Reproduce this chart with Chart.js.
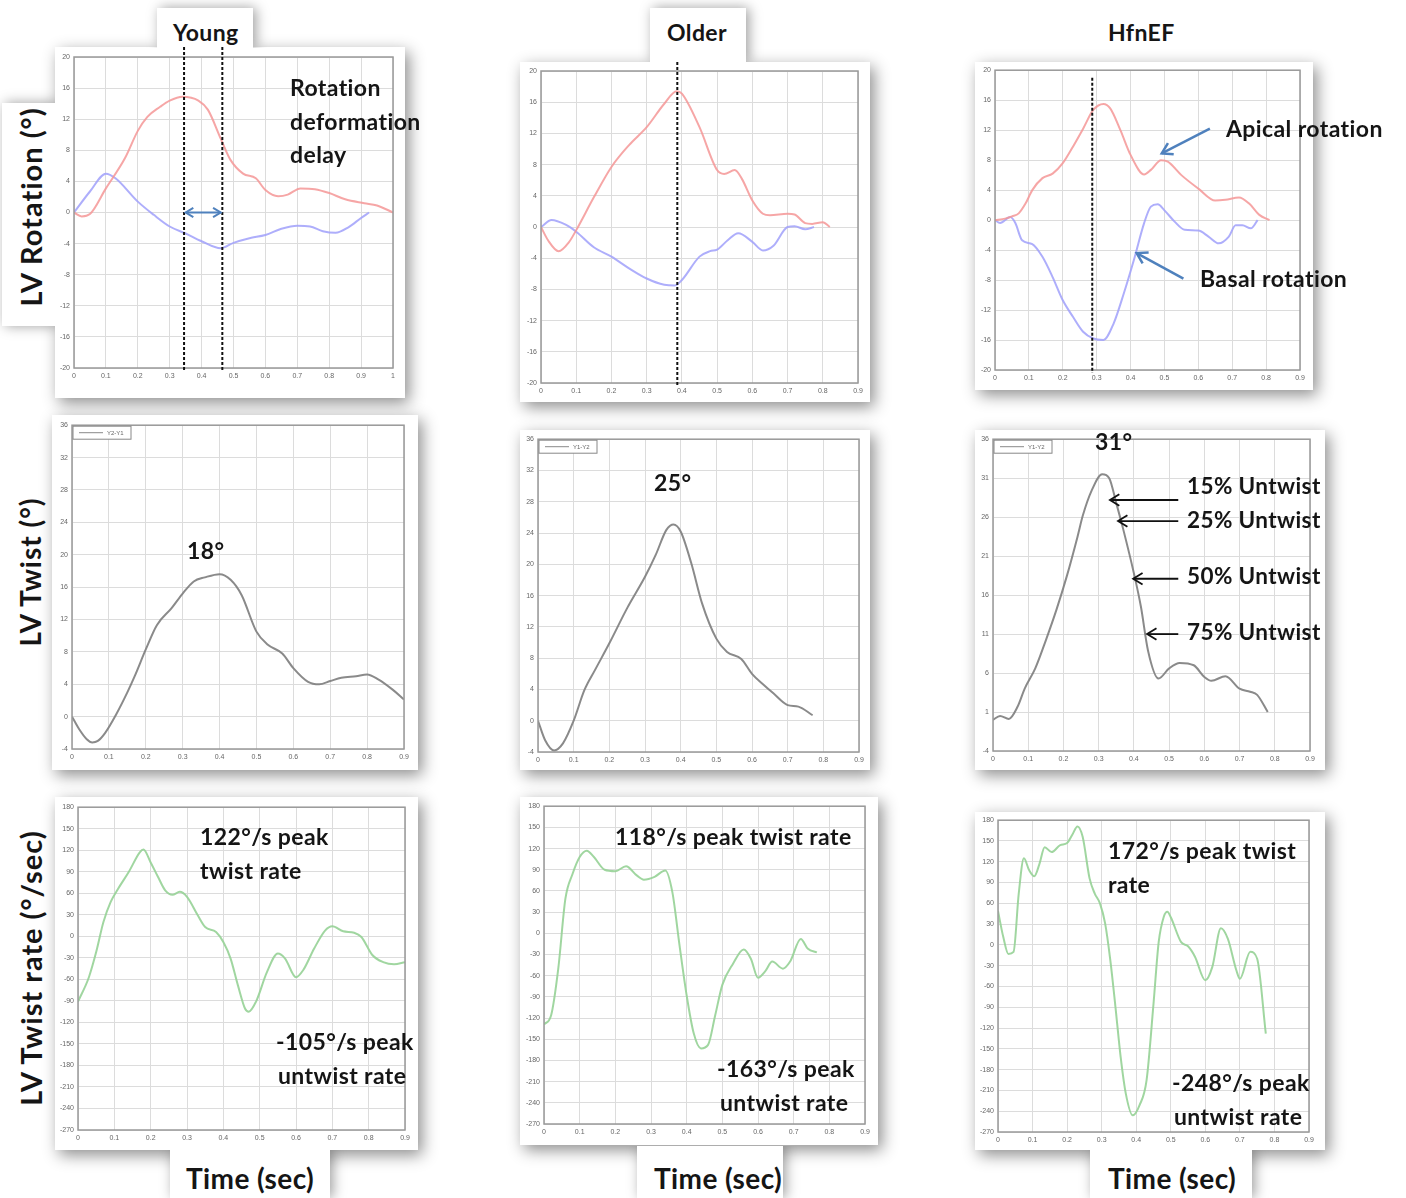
<!DOCTYPE html>
<html>
<head>
<meta charset="utf-8">
<script src="https://cdn.jsdelivr.net/npm/chart.js@4.4.0/dist/chart.umd.min.js"></script>
<style>
  body { margin: 0; width: 1406px; height: 1198px; background: #fff; position: relative; overflow: hidden; font-family: Lato, 'Open Sans', sans-serif; }
  .card { position: absolute; background: #fff; box-shadow: 4px 5px 15px rgba(0,0,0,0.45); z-index: 1; }
  .tab { position: absolute; background: #fff; box-shadow: 3px 0 12px rgba(0,0,0,0.38); z-index: 1; }
  .lbl { position: absolute; font-weight: 700; color: #151515; white-space: nowrap; line-height: 1; letter-spacing: 0.4px; transform: translateY(-50%); z-index: 5; }
  .rot { position: absolute; font-weight: 700; color: #151515; white-space: nowrap; line-height: 1; letter-spacing: 1px; transform: translate(-50%, -50%) rotate(-90deg); z-index: 5; }
  canvas { position: absolute; z-index: 2; }
</style>
</head>
<body>
<script>
// ---- data (time in s) ----
const youngApicalT = [0, 0.024, 0.05, 0.1, 0.16, 0.2, 0.23, 0.27, 0.3, 0.34, 0.39, 0.42, 0.46, 0.49, 0.53, 0.57, 0.6, 0.64, 0.67, 0.71, 0.755, 0.8, 0.85, 0.91, 0.95, 1.0];
const youngApical  = [0, -0.5, -0.2, 3.1, 7, 10.5, 12.3, 13.6, 14.4, 14.9, 14.4, 13.2, 9.5, 6.8, 5, 4.4, 2.9, 2.1, 2.3, 3.1, 3, 2.5, 1.7, 1.2, 0.9, 0];
const youngBasalT  = [0, 0.05, 0.1, 0.13, 0.2, 0.25, 0.3, 0.35, 0.4, 0.46, 0.5, 0.55, 0.6, 0.65, 0.7, 0.74, 0.78, 0.82, 0.86, 0.9, 0.925];
const youngBasal   = [0, 2.7, 5, 4.4, 1.4, -0.3, -1.8, -2.7, -3.7, -4.6, -3.9, -3.3, -2.9, -2.1, -1.7, -1.8, -2.4, -2.6, -1.9, -0.7, 0];

const olderApicalT = [0, 0.02, 0.05, 0.08, 0.1, 0.15, 0.2, 0.25, 0.3, 0.35, 0.385, 0.4, 0.45, 0.5, 0.52, 0.55, 0.57, 0.6, 0.63, 0.65, 0.7, 0.72, 0.75, 0.77, 0.8, 0.82];
const olderApical  = [0, -1.7, -3.1, -1.9, -0.4, 3.8, 7.7, 10.5, 12.8, 15.8, 17.4, 17.1, 12.8, 7.3, 6.8, 7.3, 6.2, 3.4, 1.7, 1.5, 1.7, 1.6, 0.5, 0.4, 0.6, 0];
const olderBasalT  = [0, 0.03, 0.07, 0.1, 0.15, 0.2, 0.25, 0.3, 0.35, 0.38, 0.4, 0.45, 0.48, 0.5, 0.53, 0.56, 0.6, 0.63, 0.66, 0.7, 0.72, 0.75, 0.775];
const olderBasal   = [0, 0.9, 0.3, -0.6, -2.6, -3.8, -5.3, -6.6, -7.4, -7.5, -6.8, -3.8, -3.1, -2.9, -1.7, -0.8, -1.9, -3, -2.4, 0, 0.1, -0.3, 0];

const hfApicalT = [0, 0.03, 0.05, 0.07, 0.09, 0.11, 0.14, 0.17, 0.2, 0.23, 0.26, 0.29, 0.32, 0.34, 0.37, 0.4, 0.44, 0.46, 0.49, 0.51, 0.55, 0.6, 0.65, 0.68, 0.72, 0.75, 0.78, 0.81];
const hfApical  = [0, 0.2, 0.5, 0.9, 2.2, 4, 5.6, 6.2, 7.6, 9.8, 12.2, 14.7, 15.5, 14.9, 12, 8.7, 6.1, 6.7, 8, 7.8, 6, 4.2, 2.6, 2.7, 3, 2.2, 0.7, 0];
const hfBasalT  = [0, 0.015, 0.045, 0.06, 0.08, 0.11, 0.14, 0.17, 0.2, 0.23, 0.26, 0.29, 0.32, 0.35, 0.38, 0.41, 0.44, 0.46, 0.48, 0.5, 0.53, 0.56, 0.6, 0.63, 0.66, 0.69, 0.71, 0.73, 0.755, 0.775];
const hfBasal   = [0, -0.4, 0.4, -0.4, -2.7, -3.2, -4.9, -7.6, -10.7, -12.9, -14.9, -15.8, -16, -13.8, -9.8, -5.3, -0.4, 1.8, 2.1, 1.3, -0.2, -1.3, -1.4, -2.2, -3.1, -2.2, -0.7, -0.7, -1.1, 0];

const youngTwistT = [0, 0.02, 0.04, 0.055, 0.07, 0.09, 0.12, 0.15, 0.17, 0.2, 0.23, 0.27, 0.3, 0.33, 0.36, 0.4, 0.43, 0.46, 0.5, 0.53, 0.57, 0.6, 0.64, 0.67, 0.7, 0.73, 0.77, 0.8, 0.83, 0.87, 0.9];
const youngTwist  = [0, -1.6, -2.8, -3.2, -3, -2, 0.3, 3, 5, 8.3, 11.3, 13.4, 15.2, 16.7, 17.2, 17.6, 16.9, 15, 10.5, 8.9, 7.8, 6, 4.3, 4, 4.4, 4.8, 5, 5.2, 4.6, 3.3, 2.1];
const olderTwistT = [0, 0.02, 0.045, 0.07, 0.1, 0.13, 0.16, 0.2, 0.25, 0.3, 0.33, 0.36, 0.38, 0.4, 0.43, 0.46, 0.5, 0.53, 0.57, 0.6, 0.63, 0.66, 0.7, 0.73, 0.77];
const olderTwist  = [0, -2.5, -3.8, -2.9, 0, 3.9, 6.5, 9.9, 14.4, 18.4, 21.2, 24.4, 25.1, 24.2, 20.1, 15, 10.5, 8.8, 7.9, 6, 4.7, 3.5, 2, 1.8, 0.7];
const hfTwistT = [0, 0.02, 0.045, 0.07, 0.09, 0.12, 0.15, 0.18, 0.21, 0.24, 0.255, 0.28, 0.31, 0.33, 0.35, 0.37, 0.4, 0.42, 0.44, 0.47, 0.5, 0.53, 0.57, 0.6, 0.62, 0.66, 0.7, 0.73, 0.75, 0.78];
const hfTwist  = [0, 0.5, 0.1, 1.7, 4, 6.6, 10.2, 14.1, 18.5, 23.5, 26.2, 29.4, 31.5, 31, 27.8, 24.4, 18.8, 14.5, 8.9, 5.3, 6.6, 7.3, 7, 5.5, 5, 5.6, 4, 3.6, 3.2, 1];

const youngRateT = [0, 0.03, 0.05, 0.07, 0.09, 0.11, 0.14, 0.17, 0.18, 0.2, 0.22, 0.24, 0.26, 0.28, 0.3, 0.33, 0.35, 0.38, 0.4, 0.42, 0.44, 0.46, 0.47, 0.49, 0.52, 0.55, 0.57, 0.6, 0.62, 0.65, 0.68, 0.7, 0.73, 0.76, 0.78, 0.81, 0.84, 0.87, 0.9];
const youngRate  = [-91, -57, -22, 20, 48, 66, 90, 117, 121, 103, 83, 64, 58, 62, 55, 29, 13, 6, -8, -31, -68, -101, -105, -91, -50, -24, -31, -57, -47, -17, 8, 14, 7, 5, -1, -26, -36, -39, -36];
const olderRateT = [0, 0.02, 0.04, 0.06, 0.08, 0.1, 0.12, 0.14, 0.17, 0.2, 0.23, 0.26, 0.28, 0.31, 0.34, 0.36, 0.38, 0.4, 0.42, 0.44, 0.46, 0.48, 0.5, 0.53, 0.56, 0.58, 0.6, 0.62, 0.64, 0.67, 0.69, 0.72, 0.74, 0.765];
const olderRate  = [-129, -116, -50, 49, 84, 108, 117, 108, 90, 88, 95, 82, 76, 80, 89, 58, -17, -88, -142, -163, -158, -116, -73, -43, -23, -36, -63, -54, -40, -50, -40, -8, -22, -27];
const hfRateT = [0, 0.015, 0.03, 0.045, 0.06, 0.075, 0.09, 0.105, 0.12, 0.135, 0.155, 0.18, 0.2, 0.215, 0.23, 0.245, 0.265, 0.28, 0.295, 0.31, 0.325, 0.34, 0.355, 0.37, 0.39, 0.41, 0.43, 0.45, 0.465, 0.48, 0.49, 0.5, 0.53, 0.55, 0.57, 0.6, 0.62, 0.645, 0.665, 0.69, 0.7, 0.73, 0.75, 0.775];
const hfRate  = [49, 12, -13, -10, 74, 125, 108, 99, 117, 141, 134, 144, 147, 159, 171, 156, 96, 74, 60, 31, -22, -90, -162, -215, -246, -231, -195, -85, 4, 41, 48, 40, 4, -2, -17, -51, -32, 24, 9, -37, -49, -10, -20, -128];

const groups = ['Young', 'Older', 'HfnEF'];
const legendNames = ['Y2-Y1', 'Y1-Y2', 'Y1-Y2'];

const RED = 'rgba(245,150,150,0.85)';
const BLUE = 'rgba(160,160,250,0.85)';
const GREY = 'rgba(125,125,125,0.9)';
const GREEN = 'rgba(150,210,150,0.9)';
const ARROW = '#4f81bd';

// annotation painter: frame, dashed markers, arrows, tiny legend box
Chart.register({
  id: 'deco',
  afterDraw(chart, args, o) {
    const { ctx, chartArea: a, scales: { x, y } } = chart;
    ctx.save();
    ctx.strokeStyle = '#999';
    ctx.lineWidth = 1.5;
    ctx.strokeRect(a.left, a.top, a.width, a.height);

    (o.vlines || []).forEach(v => {
      const px = x.getPixelForValue(v);
      ctx.beginPath();
      ctx.setLineDash([3, 2]);
      ctx.strokeStyle = '#111';
      ctx.lineWidth = 2;
      ctx.moveTo(px, o.vTop == null ? 0 : y.getPixelForValue(o.vTop));
      ctx.lineTo(px, a.bottom + 3);
      ctx.stroke();
    });
    ctx.setLineDash([]);

    const head = (fx, fy, tx, ty, s) => {
      const ang = Math.atan2(ty - fy, tx - fx);
      ctx.beginPath();
      ctx.moveTo(tx - s * Math.cos(ang - 0.55), ty - s * Math.sin(ang - 0.55));
      ctx.lineTo(tx, ty);
      ctx.lineTo(tx - s * Math.cos(ang + 0.55), ty - s * Math.sin(ang + 0.55));
      ctx.stroke();
    };
    (o.arrows || []).forEach(ar => {
      const x1 = x.getPixelForValue(ar.x1), y1 = y.getPixelForValue(ar.y1);
      const x2 = x.getPixelForValue(ar.x2), y2 = y.getPixelForValue(ar.y2);
      ctx.strokeStyle = ar.color;
      ctx.lineWidth = ar.w || 2;
      ctx.beginPath();
      ctx.moveTo(x1, y1);
      ctx.lineTo(x2, y2);
      ctx.stroke();
      head(x1, y1, x2, y2, ar.s || 10);
      if (ar.double) head(x2, y2, x1, y1, ar.s || 10);
    });

    if (o.legend) {
      const lx = a.left + 1, ly = a.top + 1;
      ctx.fillStyle = '#fff';
      ctx.fillRect(lx, ly, 58, 13);
      ctx.strokeStyle = '#888';
      ctx.lineWidth = 1;
      ctx.strokeRect(lx, ly, 58, 13);
      ctx.strokeStyle = GREY;
      ctx.beginPath();
      ctx.moveTo(lx + 6, ly + 6.5);
      ctx.lineTo(lx + 30, ly + 6.5);
      ctx.stroke();
      ctx.fillStyle = '#666';
      ctx.font = '6px Arial';
      ctx.textBaseline = 'middle';
      ctx.fillText(o.legend, lx + 34, ly + 7);
    }
    ctx.restore();
  }
});

function pts(t, v) { return t.map((x, i) => ({ x: x, y: v[i] })); }

function makeChart(box, xMax, yr, sets, deco, pt) {
  pt = pt || 8;
  const [l, t, r, b] = box;
  const cv = document.createElement('canvas');
  cv.width = (r - l) + 22 + 10;
  cv.height = (b - t) + pt + 16;
  cv.style.left = (l - 22) + 'px';
  cv.style.top = (t - pt) + 'px';
  document.body.appendChild(cv);
  new Chart(cv, {
    type: 'line',
    data: {
      datasets: sets.map(s => ({
        data: pts(s[0], s[1]),
        borderColor: s[2],
        borderWidth: 2,
        pointRadius: 0,
        cubicInterpolationMode: 'monotone',
        fill: false
      }))
    },
    options: {
      responsive: false,
      animation: false,
      layout: { padding: { left: 2, top: pt, right: 10, bottom: 2 } },
      plugins: { legend: { display: false }, tooltip: { enabled: false }, deco: deco || {} },
      scales: {
        x: {
          type: 'linear', min: 0, max: xMax,
          afterFit: s => { s.height = 14; },
          grid: { color: '#dcdcdc', drawTicks: false },
          border: { display: false },
          ticks: { stepSize: 0.1, autoSkip: false, maxRotation: 0, padding: 4, color: '#666', font: { size: 7 },
                   callback: v => String(+v.toFixed(1)) }
        },
        y: {
          min: yr[0], max: yr[1],
          afterFit: s => { s.width = 20; },
          grid: { color: '#dcdcdc', drawTicks: false },
          border: { display: false },
          ticks: { stepSize: yr[2], autoSkip: false, padding: 4, color: '#666', font: { size: 7 } }
        }
      }
    }
  });
}

// ---- panels (white cards with shadow) ----
const cards = [
  [55, 47, 350, 351], [520, 62, 350, 340], [975, 62, 338, 328],
  [52, 415, 366, 355], [520, 430, 350, 340], [975, 430, 350, 340],
  [55, 797, 363, 353], [520, 797, 358, 348], [975, 812, 350, 338]
];
cards.forEach(c => {
  const d = document.createElement('div');
  d.className = 'card';
  Object.assign(d.style, { left: c[0] + 'px', top: c[1] + 'px', width: c[2] + 'px', height: c[3] + 'px' });
  document.body.appendChild(d);
});
const tabs = [
  [157, 8, 96, 40, 'inset(-20px -20px 0 -20px)'],
  [650, 8, 96, 54, 'inset(-20px -20px 0 -20px)'],
  [2, 103, 53, 223, 'inset(-20px 0 -20px -20px)'],
  [170, 1150, 160, 48, 'inset(0 -20px -20px -20px)'],
  [637, 1146, 146, 52, 'inset(0 -20px -20px -20px)'],
  [1090, 1150, 162, 48, 'inset(0 -20px -20px -20px)']
];
tabs.forEach(c => {
  const d = document.createElement('div');
  d.className = 'tab';
  Object.assign(d.style, { left: c[0] + 'px', top: c[1] + 'px', width: c[2] + 'px', height: c[3] + 'px', clipPath: c[4] });
  document.body.appendChild(d);
});

// ---- row 1: LV rotation ----
const ROT = [-20, 20, 4];
makeChart([74, 57, 393, 368], 1, ROT, [[youngApicalT, youngApical, RED], [youngBasalT, youngBasal, BLUE]],
  { vlines: [0.345, 0.465], arrows: [{ x1: 0.35, y1: 0, x2: 0.46, y2: 0, color: ARROW, double: true, s: 9 }] }, 10);
makeChart([541, 71, 858, 383], 0.9, ROT, [[olderApicalT, olderApical, RED], [olderBasalT, olderBasal, BLUE]],
  { vlines: [0.387] }, 9);
makeChart([995, 70, 1300, 370], 0.9, ROT, [[hfApicalT, hfApical, RED], [hfBasalT, hfBasal, BLUE]],
  { vlines: [0.287], vTop: 19,
    arrows: [{ x1: 0.634, y1: 12.2, x2: 0.492, y2: 8.9, color: ARROW, w: 2.5, s: 12 },
             { x1: 0.556, y1: -7.8, x2: 0.418, y2: -4.4, color: ARROW, w: 2.5, s: 12 }] });

// ---- row 2: LV twist ----
makeChart([72, 425, 404, 749], 0.9, [-4, 36, 4], [[youngTwistT, youngTwist, GREY]], { legend: legendNames[0] });
makeChart([538, 439, 859, 752], 0.9, [-4, 36, 4], [[olderTwistT, olderTwist, GREY]], { legend: legendNames[1] });
makeChart([993, 439, 1310, 751], 0.9, [-4, 36, 5], [[hfTwistT, hfTwist, GREY]], {
  legend: legendNames[2],
  arrows: [
    { x1: 0.526, y1: 28.2, x2: 0.332, y2: 28.2, color: '#111', w: 1.8, s: 11 },
    { x1: 0.526, y1: 25.5, x2: 0.355, y2: 25.5, color: '#111', w: 1.8, s: 11 },
    { x1: 0.526, y1: 18.1, x2: 0.398, y2: 18.1, color: '#111', w: 1.8, s: 11 },
    { x1: 0.526, y1: 11, x2: 0.4375, y2: 11, color: '#111', w: 1.8, s: 11 }
  ]
});

// ---- row 3: LV twist rate ----
const RATE = [-270, 180, 30];
makeChart([78, 807, 405, 1130], 0.9, RATE, [[youngRateT, youngRate, GREEN]]);
makeChart([544, 806, 865, 1124], 0.9, RATE, [[olderRateT, olderRate, GREEN]]);
makeChart([998, 820, 1309, 1132], 0.9, RATE, [[hfRateT, hfRate, GREEN]]);

// ---- text ----
const labels = [
  [groups[0], 173, 32, 23], [groups[1], 667, 32, 23], [groups[2], 1108, 32, 23],
  ['Rotation', 290, 87, 23], ['deformation', 290, 121, 23], ['delay', 290, 154, 23],
  ['Apical rotation', 1226, 128, 23], ['Basal rotation', 1200, 278, 23],
  ['18°', 187, 550, 23], ['25°', 654, 482, 23], ['31°', 1095, 441, 23],
  ['15% Untwist', 1187, 486, 22.5], ['25% Untwist', 1187, 520, 22.5], ['50% Untwist', 1187, 576, 22.5], ['75% Untwist', 1187, 632, 22.5],
  ['122°/s peak', 200, 836, 23], ['twist rate', 200, 870, 23],
  ['-105°/s peak', 276, 1041, 23], ['untwist rate', 278, 1075, 23],
  ['118°/s peak twist rate', 615, 836, 23],
  ['-163°/s peak', 717, 1068, 23], ['untwist rate', 720, 1102, 23],
  ['172°/s peak twist', 1108, 850, 23], ['rate', 1108, 884, 23],
  ['-248°/s peak', 1172, 1082, 23], ['untwist rate', 1174, 1116, 23],
  ['Time (sec)', 186, 1178, 28], ['Time (sec)', 654, 1178, 28], ['Time (sec)', 1108, 1178, 28]
];
labels.forEach(l => {
  const d = document.createElement('div');
  d.className = 'lbl';
  d.textContent = l[0];
  Object.assign(d.style, { left: l[1] + 'px', top: l[2] + 'px', fontSize: l[3] + 'px' });
  document.body.appendChild(d);
});
const rowTitles = [['LV Rotation (°)', 30, 207, 29], ['LV Twist (°)', 30, 572, 28], ['LV Twist rate (°/sec)', 30, 968, 29]];
rowTitles.forEach(l => {
  const d = document.createElement('div');
  d.className = 'rot';
  d.textContent = l[0];
  Object.assign(d.style, { left: l[1] + 'px', top: l[2] + 'px', fontSize: l[3] + 'px' });
  document.body.appendChild(d);
});
</script>
</body>
</html>
